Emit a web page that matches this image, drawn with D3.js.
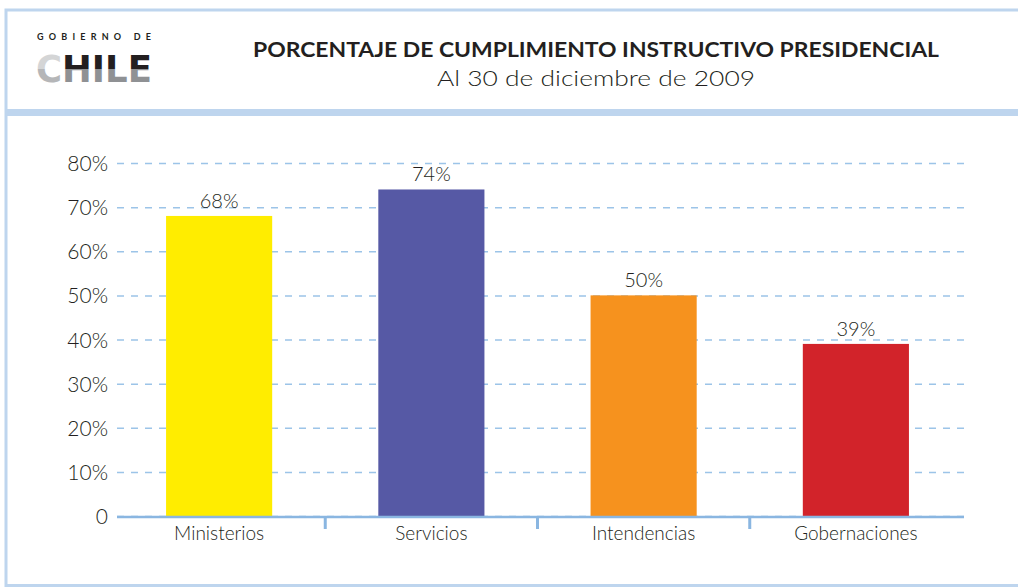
<!DOCTYPE html>
<html>
<head>
<meta charset="utf-8">
<script src="https://cdn.jsdelivr.net/npm/d3@7"></script>
<style>
  body { margin: 0; background: #fff; }
  svg { display: block; }
  text { fill: #231f20; }
</style>
</head>
<body>
<div class="chart"></div>
<script>
const categories = ['Ministerios', 'Servicios', 'Intendencias', 'Gobernaciones'];
const values = [68, 74, 50, 39];
const colors = ['#ffed00', '#5659a5', '#f6921e', '#d2232a'];
const yTicks = [0, 10, 20, 30, 40, 50, 60, 70, 80];

const width = 1018;
const height = 587;
const borderColor = '#bed5ee';
const axisColor = '#8ab6e1';
const font = 'Lato, "Open Sans", sans-serif';

const svg = d3
    .select('div.chart')
    .append('svg')
    .attr('width', width)
    .attr('height', height);

// frame
svg.append('rect')
    .attr('x', 6).attr('y', 10)
    .attr('width', width + 20).attr('height', 575.5)
    .attr('fill', 'none')
    .attr('stroke', borderColor)
    .attr('stroke-width', 3);

svg.append('rect')
    .attr('x', 6).attr('y', 109)
    .attr('width', width).attr('height', 7)
    .attr('fill', borderColor);

// logo
const defs = svg.append('defs');
const grad = defs.append('linearGradient')
    .attr('id', 'chileDark')
    .attr('x1', 0).attr('y1', 0).attr('x2', 0).attr('y2', 1);
grad.append('stop').attr('offset', '0.5').attr('stop-color', '#231f20');
grad.append('stop').attr('offset', '0.5').attr('stop-color', '#8f9194');
const gradC = defs.append('linearGradient')
    .attr('id', 'chileLight')
    .attr('x1', 0).attr('y1', 0).attr('x2', 0).attr('y2', 1);
gradC.append('stop').attr('offset', '0.5').attr('stop-color', '#d4d5d6');
gradC.append('stop').attr('offset', '0.5').attr('stop-color', '#b5b6b8');

svg.append('text')
    .attr('x', 37).attr('y', 40)
    .attr('textLength', 114)
    .attr('lengthAdjust', 'spacing')
    .style('font-family', font)
    .style('font-size', '9px')
    .style('font-weight', 700)
    .text('GOBIERNO DE');

const chile = svg.append('text')
    .attr('x', 36).attr('y', 82)
    .attr('textLength', 116)
    .attr('lengthAdjust', 'spacingAndGlyphs')
    .style('font-family', '"DejaVu Sans", sans-serif')
    .style('font-size', '38px')
    .style('font-weight', 700);
chile.append('tspan').attr('fill', 'url(#chileLight)').style('fill', 'url(#chileLight)').text('C');
chile.append('tspan').attr('fill', 'url(#chileDark)').style('fill', 'url(#chileDark)').text('HILE');

// titles
svg.append('text')
    .attr('x', 596).attr('y', 57)
    .attr('text-anchor', 'middle')
    .attr('textLength', 686)
    .attr('lengthAdjust', 'spacingAndGlyphs')
    .style('font-family', font)
    .style('font-size', '20px')
    .style('font-weight', 700)
    .text('PORCENTAJE DE CUMPLIMIENTO INSTRUCTIVO PRESIDENCIAL');

svg.append('text')
    .attr('x', 596).attr('y', 86)
    .attr('text-anchor', 'middle')
    .attr('textLength', 318)
    .attr('lengthAdjust', 'spacingAndGlyphs')
    .style('font-family', font)
    .style('font-size', '22px')
    .style('font-weight', 300)
    .text('Al 30 de diciembre de 2009');

// scales
const x = d3.scaleBand()
    .domain(categories)
    .range([113, 962])
    .paddingInner(0.5)
    .paddingOuter(0.25);

const y = d3.scaleLinear()
    .domain([0, 80])
    .range([516, 163]);

// grid + y labels
const yAxis = svg.append('g')
    .attr('transform', 'translate(117,0)')
    .call(d3.axisLeft(y)
        .tickValues(yTicks)
        .tickSizeInner(-847)
        .tickSizeOuter(0)
        .tickPadding(9)
        .tickFormat(d => d === 0 ? '0' : d + '%'));
yAxis.select('.domain').remove();
yAxis.selectAll('.tick line')
    .attr('stroke', '#9cc4e8')
    .attr('stroke-width', 1.5)
    .attr('stroke-dasharray', '7,7');
yAxis.selectAll('.tick text')
    .attr('dy', '0.36em')
    .style('font-family', font)
    .style('font-size', '21px')
    .style('font-weight', 300)
    .style('fill', '#231f20');

// bars
svg.selectAll('rect.bar')
    .data(values)
    .enter()
    .append('rect')
    .attr('class', 'bar')
    .attr('x', (d, i) => x(categories[i]))
    .attr('y', d => y(d))
    .attr('width', x.bandwidth())
    .attr('height', d => y(0) - y(d))
    .attr('fill', (d, i) => colors[i]);

// value labels
svg.selectAll('text.value')
    .data(values)
    .enter()
    .append('text')
    .attr('class', 'value')
    .attr('x', (d, i) => x(categories[i]) + x.bandwidth() / 2)
    .attr('y', d => y(d) - 8)
    .attr('text-anchor', 'middle')
    .style('font-family', font)
    .style('font-size', '20px')
    .style('font-weight', 300)
    .text(d => d + '%');

// x axis
svg.append('line')
    .attr('x1', 117).attr('x2', 964)
    .attr('y1', y(0) + 1).attr('y2', y(0) + 1)
    .attr('stroke', axisColor)
    .attr('stroke-width', 2.5);

const step = x.step();
svg.selectAll('line.sep')
    .data(categories.slice(1))
    .enter()
    .append('line')
    .attr('class', 'sep')
    .attr('x1', d => x(d) - step * x.paddingInner() / 2)
    .attr('x2', d => x(d) - step * x.paddingInner() / 2)
    .attr('y1', y(0))
    .attr('y2', y(0) + 13)
    .attr('stroke', axisColor)
    .attr('stroke-width', 3);

svg.selectAll('text.cat')
    .data(categories)
    .enter()
    .append('text')
    .attr('class', 'cat')
    .attr('x', d => x(d) + x.bandwidth() / 2)
    .attr('y', 540)
    .attr('text-anchor', 'middle')
    .style('font-family', font)
    .style('font-size', '19px')
    .style('font-weight', 300)
    .text(d => d);
</script>
</body>
</html>
